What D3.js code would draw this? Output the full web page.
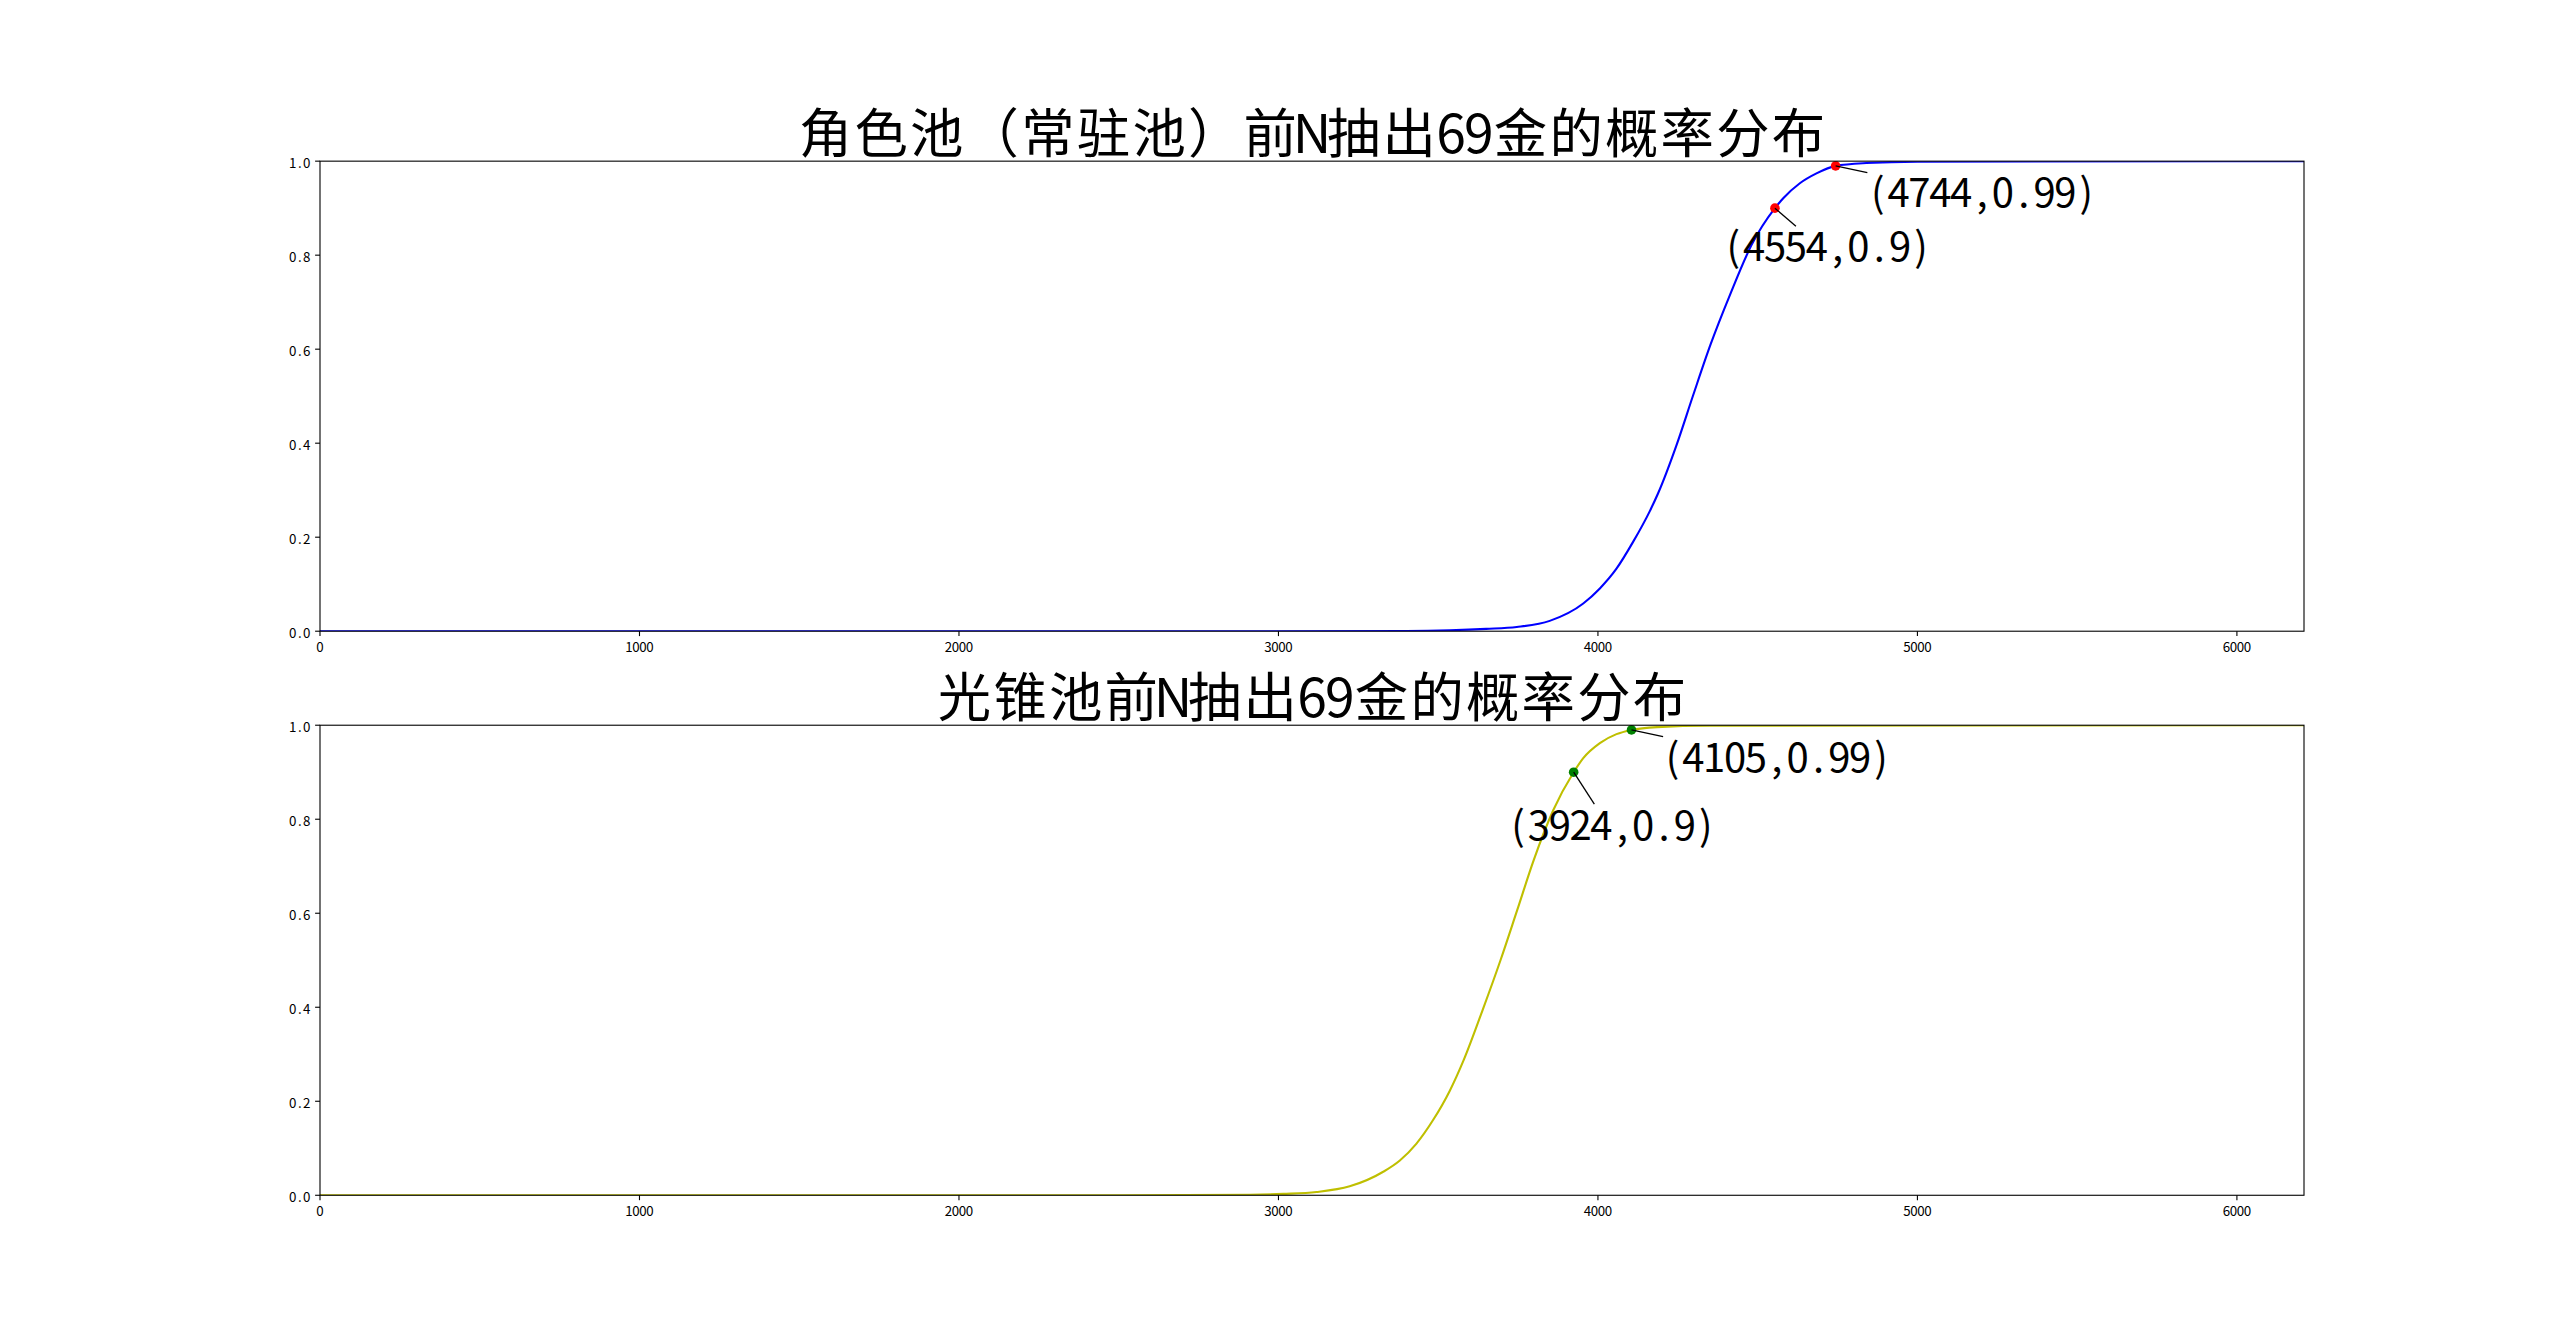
<!DOCTYPE html>
<html><head><meta charset="utf-8">
<script src="https://cdn.jsdelivr.net/npm/d3@7/dist/d3.min.js"></script>
<style>html,body{margin:0;padding:0;background:#fff}svg{display:block}</style>
</head><body>
<script>
// ---------- data ----------
const titles = ["角色池（常驻池）前N抽出69金的概率分布", "光锥池前N抽出69金的概率分布"];
const xTicks = [0, 1000, 2000, 3000, 4000, 5000, 6000];
const yTicks = [0.0, 0.2, 0.4, 0.6, 0.8, 1.0];
const xTickLabels = ["0", "1000", "2000", "3000", "4000", "5000", "6000"];
const yTickLabels = ["0.0", "0.2", "0.4", "0.6", "0.8", "1.0"];
const xMax = 6210;

const pullsCharacter = [0, 3000, 3400, 3536, 3650, 3746, 3849, 3954, 4006, 4058, 4110, 4162, 4188, 4246, 4298, 4352, 4413, 4481, 4554, 4580, 4632, 4684, 4744, 4840, 5000, 6210];
const probCharacter  = [0, 0, 0.0005, 0.002, 0.005, 0.009, 0.022, 0.059, 0.091, 0.133, 0.190, 0.255, 0.293, 0.396, 0.502, 0.609, 0.715, 0.822, 0.900, 0.921, 0.953, 0.974, 0.990, 0.996, 0.999, 1.0];

const pullsLightCone = [0, 2500, 2910, 3015, 3119, 3223, 3328, 3380, 3432, 3484, 3536, 3580, 3639, 3695, 3747, 3799, 3860, 3924, 3954, 4006, 4058, 4105, 4185, 4350, 6210];
const probLightCone  = [0, 0, 0.001, 0.003, 0.007, 0.019, 0.050, 0.074, 0.110, 0.160, 0.222, 0.288, 0.394, 0.500, 0.606, 0.713, 0.819, 0.900, 0.930, 0.962, 0.981, 0.990, 0.996, 0.999, 1.0];

const markCharacterX = [4554, 4744];
const markCharacterY = [0.9, 0.99];
const markLightConeX = [3924, 4105];
const markLightConeY = [0.9, 0.99];
const markCharacterLabels = ["(4554,0.9)", "(4744,0.99)"];
const markLightConeLabels = ["(3924,0.9)", "(4105,0.99)"];

// ---------- layout / style ----------
const W = 2560, H = 1343;
const FONT = "'Noto Sans CJK SC','Noto Sans',sans-serif";
const figL = 0.125 * W, figR = 0.9 * W, figT = (1 - 0.88) * H, figB = (1 - 0.11) * H;
const axH = (figB - figT) / 2.2;

const panels = [
  {title: titles[0], xs: pullsCharacter, ys: probCharacter, color: "#0000ff", mx: markCharacterX, my: markCharacterY, labels: markCharacterLabels, mcolor: "#ff0000",
   textOff: [[-52, 52.5], [31.7, 41.5]], lineOff: [[21, 18], [31.7, 6.7]]},
  {title: titles[1], xs: pullsLightCone, ys: probLightCone, color: "#bfbf00", mx: markLightConeX, my: markLightConeY, labels: markLightConeLabels, mcolor: "#008000",
   textOff: [[-66, 67.7], [30.6, 41.7]], lineOff: [[20.7, 32], [31.6, 6.7]]}
];

const svg = d3.select("body").append("svg").attr("width", W).attr("height", H);
svg.append("rect").attr("width", W).attr("height", H).attr("fill", "#fff");

// SimHei-like cell layout: ASCII half-width, others full-width
function cellText(g, str, x, y, fs, anchor) {
  const chars = Array.from(str);
  const widths = chars.map(c => (c.charCodeAt(0) < 128 ? 0.5 : 1) * fs);
  const total = d3.sum(widths);
  let start = anchor === "middle" ? x - total / 2 : anchor === "end" ? x - total : x;
  const t = g.append("text").attr("y", y).attr("font-family", FONT).attr("font-size", fs * 0.96).attr("fill", "#000");
  let cx = start;
  chars.forEach((c, i) => {
    t.append("tspan").attr("x", cx + widths[i] / 2).attr("text-anchor", "middle").text(c);
    cx += widths[i];
  });
  return t;
}

panels.forEach((p, i) => {
  const top = figT + i * axH * 1.2;
  const bottom = top + axH;
  const x = d3.scaleLinear().domain([0, xMax]).range([figL, figR]);
  const y = d3.scaleLinear().domain([0, 1]).range([bottom, top]);
  const g = svg.append("g");

  const clipId = "clip" + i;
  g.append("clipPath").attr("id", clipId).append("rect")
    .attr("x", figL).attr("y", top).attr("width", figR - figL).attr("height", axH);

  const pts = p.xs.map((v, k) => [v, p.ys[k]]);
  const line = d3.line().x(d => x(d[0])).y(d => y(d[1])).curve(d3.curveMonotoneX);
  g.append("path").attr("d", line(pts)).attr("fill", "none").attr("stroke", p.color)
    .attr("stroke-width", 2.1).attr("clip-path", `url(#${clipId})`);

  // markers
  p.mx.forEach((mx, k) => {
    g.append("circle").attr("cx", x(mx)).attr("cy", y(p.my[k])).attr("r", 4.8).attr("fill", p.mcolor);
  });

  // spines
  g.append("rect").attr("x", figL).attr("y", top).attr("width", figR - figL).attr("height", axH)
    .attr("fill", "none").attr("stroke", "#000").attr("stroke-width", 1.1);

  // x ticks
  xTicks.forEach((t, k) => {
    g.append("line").attr("x1", x(t)).attr("x2", x(t)).attr("y1", bottom).attr("y2", bottom + 4.9)
      .attr("stroke", "#000").attr("stroke-width", 1.1);
    cellText(g, xTickLabels[k], x(t), bottom + 20.3, 13.9, "middle");
  });
  // y ticks
  yTicks.forEach((t, k) => {
    g.append("line").attr("x1", figL - 4.9).attr("x2", figL).attr("y1", y(t)).attr("y2", y(t))
      .attr("stroke", "#000").attr("stroke-width", 1.1);
    cellText(g, yTickLabels[k], figL - 9.8, y(t) + 6.8, 13.9, "end");
  });

  // annotations
  p.mx.forEach((mx, k) => {
    const px = x(mx), py = y(p.my[k]);
    g.append("line").attr("x1", px).attr("y1", py)
      .attr("x2", px + p.lineOff[k][0]).attr("y2", py + p.lineOff[k][1])
      .attr("stroke", "#000").attr("stroke-width", 1.3);
    cellText(g, p.labels[k], px + p.textOff[k][0], py + p.textOff[k][1], 41.7, "start");
  });

  // title
  cellText(g, p.title, (figL + figR) / 2, top - 8.3, 55.6, "middle");
});
</script>
</body></html>
